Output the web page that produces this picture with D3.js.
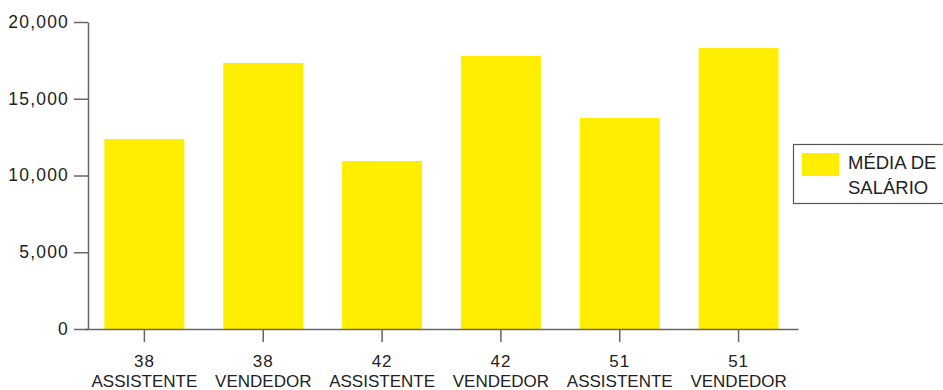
<!DOCTYPE html>
<html>
<head>
<meta charset="utf-8">
<script src="https://cdn.jsdelivr.net/npm/d3@7"></script>
<style>
  html, body { margin: 0; padding: 0; background: #fff; }
  svg { display: block; font-family: "Liberation Sans", Arial, Helvetica, sans-serif; }
</style>
</head>
<body>
<svg id="chart" width="943" height="390"></svg>
<script>
// Average salary by age and job role
const ages = ["38", "38", "42", "42", "51", "51"];
const roles = ["ASSISTENTE", "VENDEDOR", "ASSISTENTE", "VENDEDOR", "ASSISTENTE", "VENDEDOR"];
const salaries = [12380, 17330, 10940, 17790, 13750, 18300];
const yTicks = [0, 5000, 10000, 15000, 20000];
const legendLines = ["MÉDIA DE", "SALÁRIO"];

const barColor = "#FFEE00";
const axisColor = "#666";
const textColor = "#222";

const svg = d3.select("#chart");
const keys = ages.map((a, i) => i);

const x = d3.scaleBand()
  .domain(keys)
  .range([85, 798])
  .paddingInner(0.327)
  .paddingOuter(0.1635);

const y = d3.scaleLinear()
  .domain([0, 20000])
  .range([329, 22]);

// bars
svg.append("g")
  .selectAll("rect")
  .data(salaries)
  .join("rect")
  .attr("x", (d, i) => x(i))
  .attr("y", d => y(d))
  .attr("width", x.bandwidth())
  .attr("height", d => y(0) - y(d))
  .attr("fill", barColor);

// y axis
const yAxis = svg.append("g")
  .attr("transform", "translate(88,0)")
  .call(d3.axisLeft(y).tickValues(yTicks).tickFormat(d3.format(",")).tickSize(14).tickSizeOuter(0).tickPadding(5));
yAxis.select(".domain").attr("stroke", axisColor).attr("stroke-width", 1.5);
yAxis.selectAll(".tick line").attr("stroke", axisColor).attr("stroke-width", 1.5);
yAxis.selectAll(".tick text")
  .attr("fill", textColor)
  .attr("font-size", 17.5)
  .attr("letter-spacing", "1.2px")
  .attr("dy", "0.3em");

// x axis with two-line labels
const xAxis = svg.append("g")
  .attr("transform", "translate(0,329)")
  .call(d3.axisBottom(x).tickSize(13).tickSizeOuter(0).tickFormat(""));
xAxis.select(".domain").attr("stroke", axisColor).attr("stroke-width", 1.5);
xAxis.selectAll(".tick line").attr("stroke", axisColor).attr("stroke-width", 1.5);
xAxis.selectAll(".tick text").remove();
xAxis.selectAll(".tick").each(function(i) {
  const t = d3.select(this).append("text")
    .attr("fill", textColor)
    .attr("font-size", 17)
    .attr("text-anchor", "middle");
  t.append("tspan").attr("x", 0).attr("y", 38).attr("letter-spacing", "1px").text(ages[i]);
  t.append("tspan").attr("x", 0).attr("y", 58).text(roles[i]);
});

// legend
const legend = svg.append("g");
legend.append("rect")
  .attr("x", 793.5).attr("y", 144.5)
  .attr("width", 170).attr("height", 59)
  .attr("fill", "#fff")
  .attr("stroke", "#555")
  .attr("stroke-width", 1.2);
legend.append("rect")
  .attr("x", 802).attr("y", 153)
  .attr("width", 37).attr("height", 23)
  .attr("fill", barColor);
legend.append("text")
  .attr("fill", textColor)
  .attr("font-size", 18.5)
  .selectAll("tspan")
  .data(legendLines)
  .join("tspan")
  .attr("x", 848)
  .attr("y", (d, i) => 169 + i * 25)
  .text(d => d);
</script>
</body>
</html>
